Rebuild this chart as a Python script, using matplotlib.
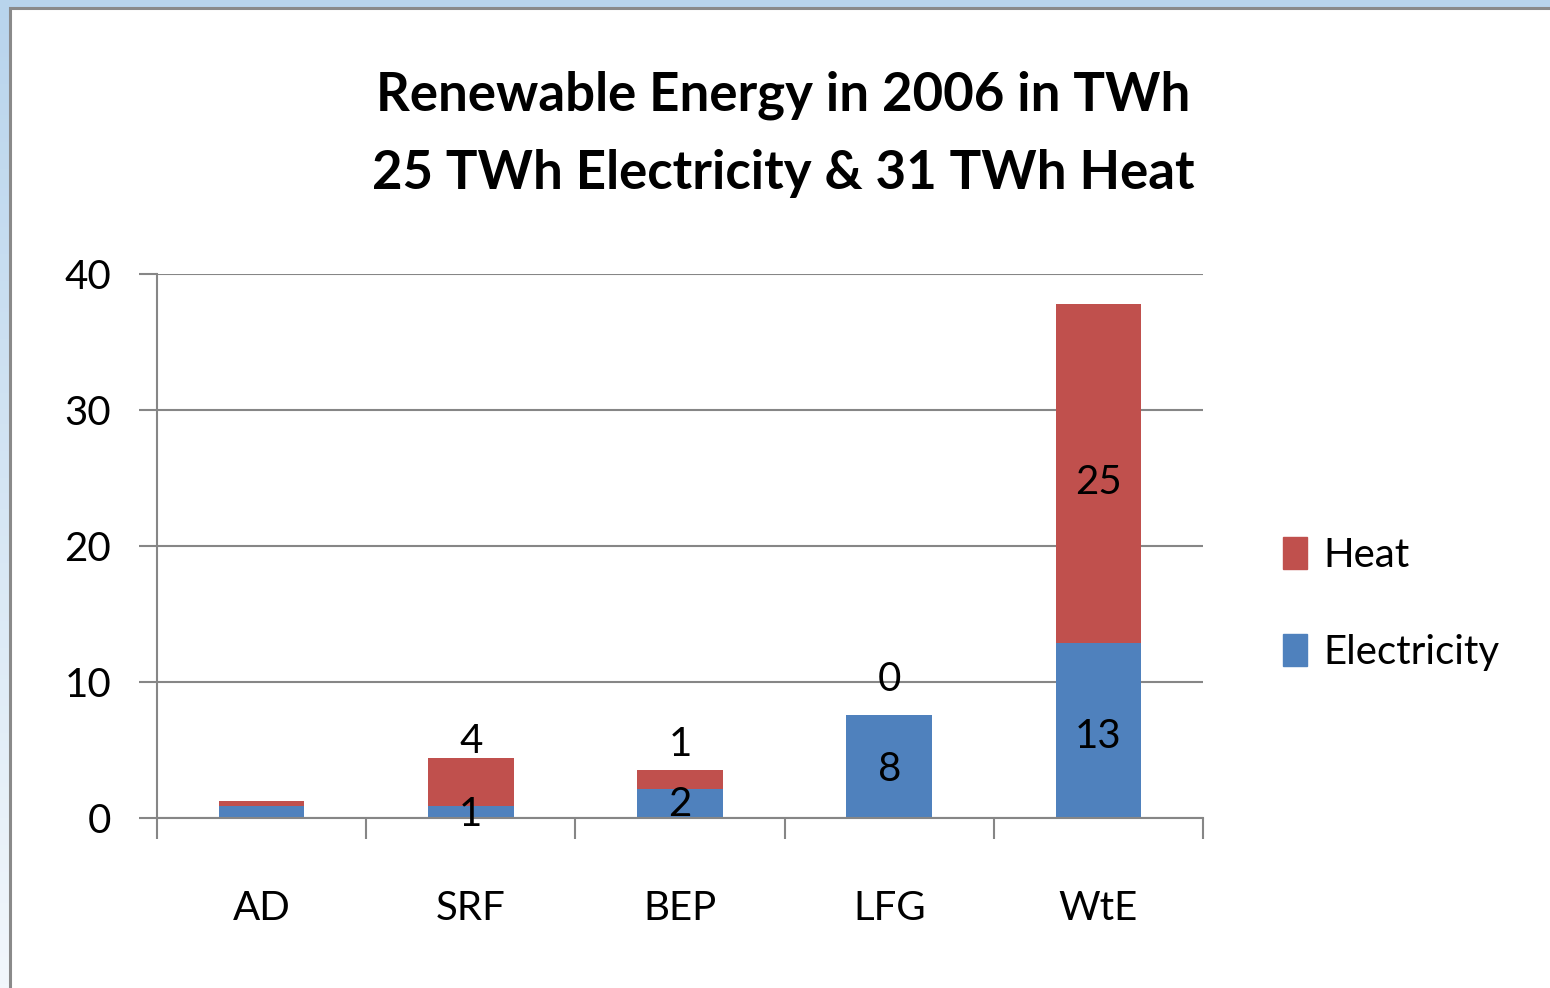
import numpy as np
import matplotlib.pyplot as plt
from matplotlib.patches import Rectangle, Patch

# data (TWh)
categories = ['AD', 'SRF', 'BEP', 'LFG', 'WtE']
electricity = [0.85, 0.85, 2.1, 7.6, 12.9]
heat = [0.4, 3.55, 1.4, 0.0, 24.9]
elec_labels = ['', '1', '2', '8', '13']
heat_labels = ['', '4', '1', '0', '25']

BLUE = '#4F81BD'
RED = '#C0504D'
GRAY = '#868686'

plt.rcParams['font.family'] = ['Lato', 'DejaVu Sans']

fig = plt.figure(figsize=(15.5, 9.88), dpi=100)

# window background: light blue band with a gradient, white sheet on top
bg = fig.add_axes([0, 0, 1, 1], zorder=-10)
grad = np.linspace(0, 1, 256).reshape(-1, 1)
bg.imshow(grad, cmap=plt.matplotlib.colors.LinearSegmentedColormap.from_list(
    'bg', ['#B8D4EC', '#F2F7FC']), aspect='auto', extent=[0, 1, 0, 1],
    transform=bg.transAxes)
bg.add_patch(Rectangle((9.5 / 1550, -0.1), 1.2, (988 - 8.5) / 988 + 0.1,
                       transform=bg.transAxes, facecolor='white',
                       edgecolor='#8A8A8A', linewidth=2.2))
bg.set_xlim(0, 1)
bg.set_ylim(0, 1)
bg.axis('off')

ax = fig.add_axes([157 / 1550, (988 - 818) / 988, 1046 / 1550, 544 / 988])
x = np.arange(len(categories))
width = 0.41
ax.bar(x, electricity, width, color=BLUE, label='Electricity', zorder=3)
ax.bar(x, heat, width, bottom=electricity, color=RED, label='Heat', zorder=3)

# data labels
elec_y = [e / 2 for e in electricity]
elec_y[1] = 0.25
elec_y[2] = 1.0
elec_y[3] = 3.6
elec_y[4] = 6.0
heat_y = [e + h / 2 for e, h in zip(electricity, heat)]
heat_y[1] = 5.6
heat_y[2] = 5.4
heat_y[3] = 10.2
heat_y[4] = 24.7
for i in range(len(categories)):
    if elec_labels[i]:
        ax.text(x[i], elec_y[i], elec_labels[i], ha='center', va='center',
                fontsize=29, zorder=5)
    if heat_labels[i]:
        ax.text(x[i], heat_y[i], heat_labels[i], ha='center', va='center',
                fontsize=29, zorder=5)

ax.set_xlim(-0.5, len(categories) - 0.5)
ax.set_ylim(0, 40)
ax.set_yticks([0, 10, 20, 30, 40])
ax.grid(axis='y', color=GRAY, linewidth=1.5, zorder=0)

# category boundaries carry the tick marks, labels sit at centers
ax.set_xticks(np.arange(-0.5, len(categories), 1.0))
ax.set_xticklabels([])
ax.set_xticks(x, minor=True)
ax.set_xticklabels(categories, minor=True)
ax.tick_params(axis='x', which='major', length=15, width=1.5, color=GRAY,
               direction='out')
ax.tick_params(axis='x', which='minor', length=0, pad=52, labelsize=29)
ax.tick_params(axis='y', length=13, width=1.5, color=GRAY, pad=20,
               labelsize=29)

for s in ['top', 'right']:
    ax.spines[s].set_visible(False)
for s in ['left', 'bottom']:
    ax.spines[s].set_color(GRAY)
    ax.spines[s].set_linewidth(1.5)
ax.spines['bottom'].set_zorder(4)

fig.text(783 / 1550, 1 - 95 / 988, 'Renewable Energy in 2006 in TWh',
         ha='center', va='center', fontsize=38, fontweight='bold')
fig.text(783 / 1550, 1 - 173 / 988, '25 TWh Electricity & 31 TWh Heat',
         ha='center', va='center', fontsize=38, fontweight='bold')

handles = [Patch(color=RED, label='Heat'), Patch(color=BLUE, label='Electricity')]
fig.legend(handles=handles, loc='center left',
           bbox_to_anchor=(1247 / 1550, 1 - 604 / 988), frameon=False,
           fontsize=29, handlelength=0.6, handleheight=0.85,
           handletextpad=0.4, labelspacing=1.5)

fig.savefig('out.png', dpi=100)
